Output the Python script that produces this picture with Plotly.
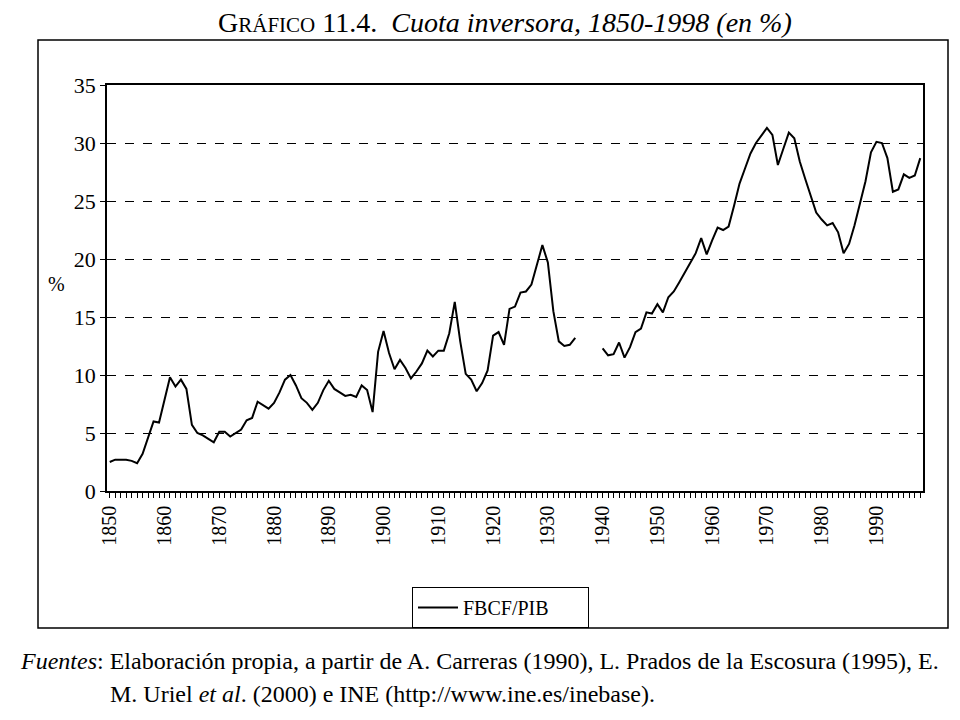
import plotly.graph_objects as go

# ---------------- data ----------------
years = list(range(1850, 1999))

fbcf_pib = [
    # 1850-1859
    2.5, 2.7, 2.7, 2.7, 2.6, 2.4, 3.2, 4.6, 6.0, 5.9,
    # 1860-1869
    7.8, 9.8, 9.0, 9.6, 8.8, 5.7, 5.0, 4.8, 4.5, 4.2,
    # 1870-1879
    5.1, 5.1, 4.7, 5.0, 5.3, 6.1, 6.3, 7.7, 7.4, 7.1,
    # 1880-1889
    7.6, 8.5, 9.6, 10.0, 9.1, 8.0, 7.6, 7.0, 7.6, 8.7,
    # 1890-1899
    9.5, 8.8, 8.5, 8.2, 8.3, 8.1, 9.1, 8.7, 6.8, 12.0,
    # 1900-1909
    13.8, 11.9, 10.5, 11.3, 10.6, 9.7, 10.3, 11.0, 12.1, 11.6,
    # 1910-1919
    12.1, 12.1, 13.6, 16.3, 12.9, 10.1, 9.6, 8.6, 9.3, 10.4,
    # 1920-1929
    13.4, 13.7, 12.6, 15.7, 15.9, 17.1, 17.2, 17.8, 19.5, 21.2,
    # 1930-1939 (no data 1936-1939)
    19.7, 15.5, 12.9, 12.5, 12.6, 13.2, None, None, None, None,
    # 1940-1949
    12.3, 11.7, 11.8, 12.8, 11.5, 12.4, 13.7, 14.0, 15.4, 15.3,
    # 1950-1959
    16.1, 15.4, 16.7, 17.2, 18.0, 18.8, 19.7, 20.5, 21.8, 20.4,
    # 1960-1969
    21.6, 22.7, 22.5, 22.8, 24.6, 26.5, 27.8, 29.1, 30.0, 30.6,
    # 1970-1979
    31.3, 30.7, 28.1, 29.5, 30.9, 30.4, 28.4, 26.9, 25.4, 24.0,
    # 1980-1989
    23.4, 22.9, 23.1, 22.3, 20.5, 21.3, 22.9, 24.8, 26.7, 29.2,
    # 1990-1998
    30.1, 30.0, 28.7, 25.8, 26.0, 27.3, 27.0, 27.2, 28.7,
]

series_name = "FBCF/PIB"
y_ticks = [0, 5, 10, 15, 20, 25, 30, 35]
x_ticks = list(range(1850, 1991, 10))

title_html = ('G<span style="font-size:21px">RÁFICO</span> 11.4.&nbsp;&nbsp;'
              '<i>Cuota inversora, 1850-1998 (en %)</i>')
source_line1 = ('<i>Fuentes</i>: Elaboración propia, a partir de A. Carreras (1990), '
                'L. Prados de la Escosura (1995), E.')
source_line2 = 'M. Uriel <i>et al</i>. (2000) e INE (http://www.ine.es/inebase).'

# ---------------- layout geometry (page pixels) ----------------
BODY = 8                      # default page body margin in the browser
W, H = 960 - BODY, 720 - BODY
PL, PR, PT, PB = 107, 923, 85, 491   # plot area edges on the page


def px(x):
    return (x - PL) / (PR - PL)


def py(y):
    return (PB - y) / (PB - PT)


SERIF = "Liberation Serif, Times New Roman, serif"

fig = go.Figure()
fig.add_trace(go.Scatter(
    x=years, y=fbcf_pib, mode="lines", name=series_name,
    line=dict(color="black", width=2), connectgaps=False,
))

fig.update_layout(
    width=W, height=H,
    margin=dict(l=PL - BODY, r=960 - PR, t=PT - BODY, b=720 - PB),
    paper_bgcolor="white", plot_bgcolor="white",
    font=dict(family=SERIF, color="black", size=18),
    showlegend=True,
    legend=dict(
        x=px(412), xanchor="left", y=py(587), yanchor="top",
        bordercolor="black", borderwidth=1, bgcolor="white",
        font=dict(family=SERIF, size=20, color="black"),
        orientation="h", itemwidth=40, entrywidth=120,
    ),
)

fig.update_xaxes(
    range=[1849.5, 1998.5],
    tickmode="array", tickvals=x_ticks, ticktext=[str(v) for v in x_ticks],
    tickangle=-90, tickfont=dict(family=SERIF, size=20, color="black"),
    ticks="outside", ticklen=5, tickcolor="black", tickwidth=1,
    minor=dict(dtick=1, tick0=1850, ticks="outside", ticklen=5,
               tickcolor="black", tickwidth=1, showgrid=False),
    showgrid=False, zeroline=False,
    showline=True, linecolor="black", linewidth=1.5, mirror=True,
)

fig.update_yaxes(
    range=[0, 35], tickmode="array", tickvals=y_ticks,
    tickfont=dict(family=SERIF, size=22, color="black"),
    ticks="outside", ticklen=5, tickcolor="black", tickwidth=1,
    showgrid=True, gridcolor="black", gridwidth=1, griddash="dash",
    zeroline=False,
    showline=True, linecolor="black", linewidth=1.5, mirror=True,
)

# outer chart frame
fig.add_shape(type="rect", xref="paper", yref="paper",
              x0=px(38), x1=px(948), y0=py(628), y1=py(40),
              line=dict(color="black", width=1.5), fillcolor="rgba(0,0,0,0)",
              layer="below")

annotations = [
    dict(text=title_html, x=px(505), y=py(22), xref="paper", yref="paper",
         xanchor="center", yanchor="middle", showarrow=False,
         font=dict(family=SERIF, size=28, color="black")),
    dict(text="%", x=px(56), y=py(284), xref="paper", yref="paper",
         xanchor="center", yanchor="middle", showarrow=False,
         font=dict(family=SERIF, size=20, color="black")),
    dict(text=source_line1, x=px(18), y=py(661), xref="paper", yref="paper",
         xanchor="left", yanchor="middle", showarrow=False,
         font=dict(family=SERIF, size=24, color="black")),
    dict(text=source_line2, x=px(108), y=py(694), xref="paper", yref="paper",
         xanchor="left", yanchor="middle", showarrow=False,
         font=dict(family=SERIF, size=24, color="black")),
]
fig.update_layout(annotations=annotations)

fig.write_html("out.html", config={"displayModeBar": False})
